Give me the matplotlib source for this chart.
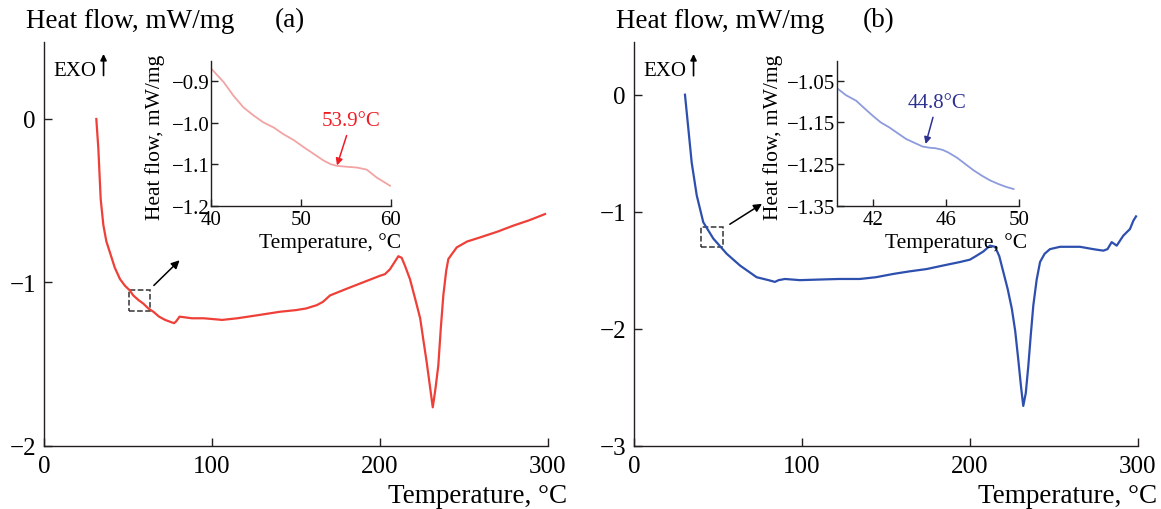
import matplotlib.pyplot as plt
from matplotlib.patches import Rectangle

plt.rcParams['font.family'] = ['Liberation Serif', 'DejaVu Serif']
plt.rcParams['axes.unicode_minus'] = True

# panel (a): main DSC curve
temp_a = [31.0, 32.2, 33.6, 35.2, 37, 39.2, 42, 45.1, 48, 51, 53, 56.3, 59, 62, 65, 68.4,
          72, 77.3, 78.5, 80.6, 88, 95, 106, 115, 128, 140.5, 150, 156, 162.3, 166, 170.3,
          180, 190, 200, 203, 206, 208.5, 211, 213, 215, 217.9, 221, 224, 226, 227.9, 230,
          231.5, 233, 234.8, 236.3, 237.8, 239.5, 240.8, 245.8, 252, 259.7, 270, 279.5,
          289, 298.4]
hf_a = [0.0, -0.18, -0.49, -0.65, -0.75, -0.82, -0.91, -0.98, -1.02, -1.05, -1.08, -1.11,
        -1.13, -1.16, -1.18, -1.21, -1.23, -1.25, -1.24, -1.21, -1.22, -1.22, -1.23, -1.22,
        -1.20, -1.18, -1.17, -1.16, -1.14, -1.12, -1.08, -1.04, -1.0, -0.96, -0.95, -0.92,
        -0.88, -0.84, -0.85, -0.90, -0.98, -1.10, -1.22, -1.36, -1.49, -1.65, -1.765, -1.66,
        -1.51, -1.28, -1.08, -0.93, -0.857, -0.786, -0.75, -0.725, -0.69, -0.653, -0.62,
        -0.582]

# panel (a): inset
temp_a_in = [40, 41.4, 42.5, 43.6, 44.7, 45.8, 47, 48, 49.2, 50.3, 51.4, 52.5, 53.3, 54, 55,
             56.2, 57.3, 58.4, 59.9]
hf_a_in = [-0.869, -0.902, -0.935, -0.963, -0.982, -0.999, -1.012, -1.027, -1.042, -1.059,
           -1.075, -1.091, -1.100, -1.104, -1.106, -1.108, -1.113, -1.132, -1.152]

# panel (b): main DSC curve
temp_b = [30.2, 32.2, 34.2, 37.2, 41.1, 47.1, 55.1, 63, 72.9, 80, 83.8, 86, 89.8, 98.7,
          110, 122, 134.4, 144, 154.3, 164, 174.3, 184, 194.1, 200, 204, 208, 212, 215,
          217.5, 220, 222.5, 225, 227, 228.8, 230.5, 231.8, 233.3, 234.8, 236.3, 237.8,
          239.8, 241.8, 244.5, 247.7, 253.7, 259, 265.6, 273.5, 279.5, 282, 284.5, 287.5,
          291.4, 295.4, 297.4, 299]
hf_b = [0.0, -0.29, -0.58, -0.86, -1.09, -1.23, -1.36, -1.46, -1.56, -1.585, -1.60, -1.585,
        -1.575, -1.585, -1.58, -1.575, -1.575, -1.56, -1.532, -1.51, -1.49, -1.46, -1.43,
        -1.41, -1.376, -1.34, -1.29, -1.30, -1.38, -1.52, -1.66, -1.83, -2.02, -2.26, -2.50,
        -2.66, -2.55, -2.32, -2.05, -1.80, -1.58, -1.43, -1.36, -1.32, -1.30, -1.30, -1.30,
        -1.32, -1.333, -1.32, -1.26, -1.29, -1.205, -1.148, -1.077, -1.04]

# panel (b): inset
temp_b_in = [40, 40.5, 41.05, 41.5, 41.96, 42.4, 42.87, 43.3, 43.8, 44.3, 44.7, 45.1, 45.4,
             45.8, 46.1, 46.6, 47.05, 47.5, 47.96, 48.4, 48.87, 49.3, 49.7]
hf_b_in = [-1.068, -1.085, -1.098, -1.116, -1.134, -1.150, -1.162, -1.175, -1.190, -1.200,
           -1.208, -1.211, -1.212, -1.216, -1.222, -1.235, -1.250, -1.265, -1.278, -1.289,
           -1.298, -1.305, -1.310]

red = '#ee4038'
red_light = '#f2a4a4'
red_text = '#ee1c25'
blue = '#2d4fae'
blue_light = '#8d9bdc'
blue_text = '#2e3192'
spine_c = '#231f20'

W, H = 1161, 510
fig = plt.figure(figsize=(W / 100, H / 100), dpi=100)


def frac(left, top, right, bottom):
    return [left / W, 1 - bottom / H, (right - left) / W, (bottom - top) / H]


def style(ax, size, ticklen):
    for s in ['top', 'right']:
        ax.spines[s].set_visible(False)
    for s in ['left', 'bottom']:
        ax.spines[s].set_color(spine_c)
        ax.spines[s].set_linewidth(1.0)
    ax.tick_params(direction='in', length=ticklen, width=1.0, color=spine_c,
                   labelsize=size, pad=4)


panels = [
    dict(left=44.3, x=temp_a, y=hf_a, c=red, ylim=(-2, 0.473), yticks=[-2, -1, 0],
         ix=temp_a_in, iy=hf_a_in, ic=red_light, tc=red_text, ileft=211, iright=391,
         ixlim=(40, 60), ixticks=[40, 50, 60], iylim=(-1.2, -0.852),
         iyticks=[-1.2, -1.1, -1.0, -0.9], ifmt='%.1f', label='53.9°C',
         txt=(55.6, -0.995), arr=(54.0, -1.103), box=(50.2, -1.174, 12.6, 0.127),
         a0=(64.1, -1.031), a1=(81.8, -0.853), exo=(0.296, 0.266, 0.398),
         tag='(a)', lab=25.6, tagx=275, ixl=330, iyl=155),
    dict(left=634.3, x=temp_b, y=hf_b, c=blue, ylim=(-3, 0.453), yticks=[-3, -2, -1, 0],
         ix=temp_b_in, iy=hf_b_in, ic=blue_light, tc=blue_text, ileft=837, iright=1019,
         ixlim=(40, 50), ixticks=[42, 46, 50], iylim=(-1.35, -1.0035),
         iyticks=[-1.35, -1.25, -1.15, -1.05], ifmt='%.2f', label='44.8°C',
         txt=(45.5, -1.102), arr=(44.87, -1.202), box=(39.6, -1.304, 13.0, 0.171),
         a0=(55.5, -1.12), a1=(77.5, -0.92), exo=(0.205, 0.162, 0.348),
         tag='(b)', lab=616, tagx=863, ixl=956, iyl=773),
]

for p in panels:
    ax = fig.add_axes(frac(p['left'], 42.7, p['left'] + 503.4, 446.7))
    ax.plot(p['x'], p['y'], color=p['c'], lw=1.6)
    ax.set_xlim(0, 300)
    ax.set_ylim(*p['ylim'])
    ax.set_xticks([0, 100, 200, 300])
    ax.set_yticks(p['yticks'])
    style(ax, 18, 6)
    ax.tick_params(axis='x', pad=7)
    ax.tick_params(axis='y', pad=6)
    ax.add_patch(Rectangle(p['box'][:2], p['box'][2], p['box'][3], fill=False,
                           ls='--', lw=1.1, ec='#333333'))
    ax.annotate('', xy=p['a1'], xytext=p['a0'],
                arrowprops=dict(arrowstyle='-|>', color='black', lw=1.1, mutation_scale=12))
    ax.text(5.6, p['exo'][0], 'EXO', fontsize=15, va='center', ha='left')
    ax.annotate('', xy=(35.3, p['exo'][2]), xytext=(35.3, p['exo'][1]),
                arrowprops=dict(arrowstyle='-|>', color='black', lw=1.2, mutation_scale=9,
                                shrinkA=0, shrinkB=0))

    fig.text(p['lab'] / W, 1 - 21 / H, 'Heat flow, mW/mg', fontsize=19.5, va='center',
             ha='left')
    fig.text(p['tagx'] / W, 1 - 21 / H, p['tag'], fontsize=19.5, va='center', ha='left')
    fig.text((p['left'] + 522.5) / W, 1 - 497 / H, 'Temperature, °C', fontsize=19.5,
             va='center', ha='right')

    ins = fig.add_axes(frac(p['ileft'], 62.3, p['iright'], 206.7))
    ins.patch.set_alpha(0)
    ins.plot(p['ix'], p['iy'], color=p['ic'], lw=1.3)
    ins.set_xlim(*p['ixlim'])
    ins.set_ylim(*p['iylim'])
    ins.set_xticks(p['ixticks'])
    ins.set_yticks(p['iyticks'])
    ins.set_yticklabels([(p['ifmt'] % v).replace('-', '\u2212') for v in p['iyticks']])
    style(ins, 15, 5)
    ins.tick_params(axis='y', pad=1)
    ins.tick_params(axis='x', pad=3)
    fig.text(p['ixl'] / W, 1 - 243 / H, 'Temperature, °C', fontsize=15.5,
             va='center', ha='center')
    fig.text(p['iyl'] / W, 1 - 137.5 / H, 'Heat flow, mW/mg', fontsize=15.5,
             va='center', ha='center', rotation=90)
    ins.annotate(p['label'], xy=p['arr'], xytext=p['txt'], color=p['tc'], fontsize=15,
                 ha='center', va='center',
                 arrowprops=dict(arrowstyle='-|>', color=p['tc'], lw=1.1,
                                 mutation_scale=10, shrinkA=2, shrinkB=0))

fig.savefig('out.png', dpi=100)
